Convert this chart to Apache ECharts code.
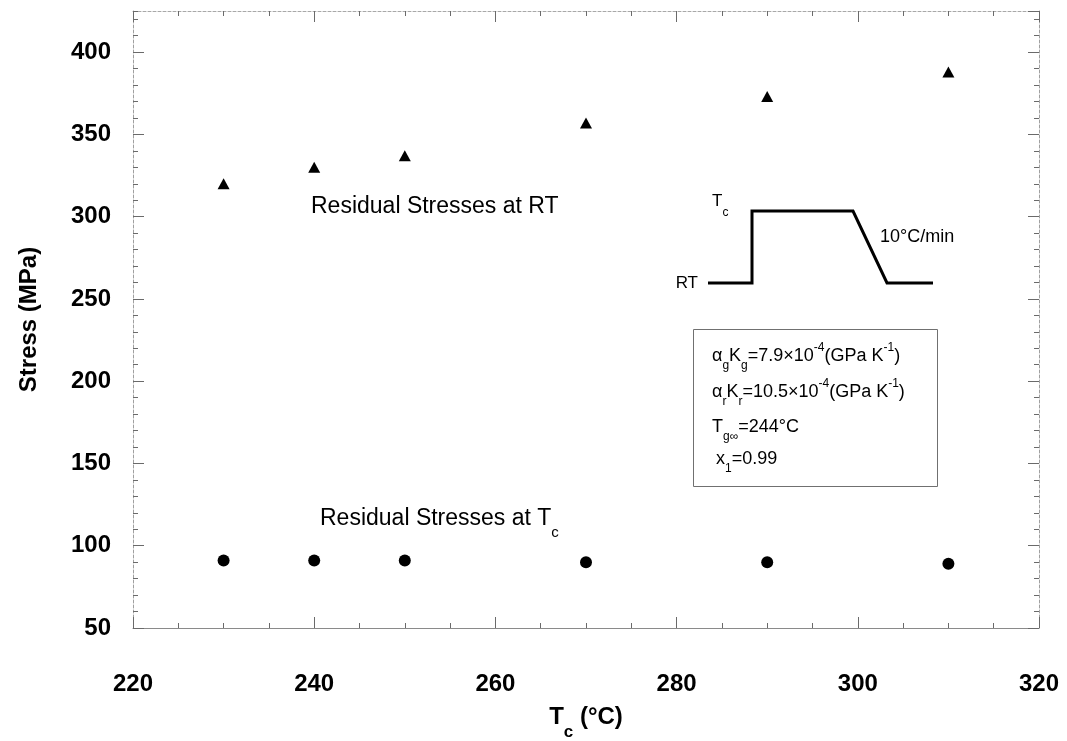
<!DOCTYPE html>
<html>
<head>
<meta charset="utf-8">
<script src="https://cdn.jsdelivr.net/npm/echarts@6/dist/echarts.min.js"></script>
<style>
  html, body { margin: 0; padding: 0; background: #fff; }
  #chart { width: 1067px; height: 741px; }
</style>
</head>
<body>
<div id="chart"></div>
<script>
// Crystallisation temperature Tc (°C) of each sample
const temperatures = [230, 240, 250, 270, 290, 310];
// Residual stress (MPa) measured after cooling to room temperature
const stressAtRT = [320, 330, 337, 357, 373, 388];
// Residual stress (MPa) at the crystallisation temperature
const stressAtTc = [91, 91, 91, 90, 90, 89];

// Axis tick values
const xTickValues = [220, 240, 260, 280, 300, 320];
const yTickValues = [50, 100, 150, 200, 250, 300, 350, 400];
const yTop = 425;

const FONT = "'Liberation Sans', Arial, Helvetica, sans-serif";
const FRAME = '#8a8a8a';
const TICK = '#6a6a6a';

const xMin = xTickValues[0];
const xMax = xTickValues[xTickValues.length - 1];
const xStep = xTickValues[1] - xTickValues[0];
const yMin = yTickValues[0];
const yStep = yTickValues[1] - yTickValues[0];

const chart = echarts.init(document.getElementById('chart'), null, { renderer: 'canvas' });

function xAxisDef(position, showLabels) {
  return {
    type: 'value', position: position, min: xMin, max: xMax, interval: xStep,
    axisLine: { show: true, lineStyle: position === 'bottom'
      ? { color: FRAME, width: 1 }
      : { color: '#a8a8a8', width: 1, type: [3, 2] } },
    axisTick: { show: true, inside: true, length: 11, lineStyle: { color: TICK, width: 1 } },
    minorTick: { show: true, splitNumber: 4, length: 5, lineStyle: { color: TICK, width: 1 } },
    splitLine: { show: false },
    axisLabel: showLabels ? {
      show: true, margin: 44, color: '#000', fontFamily: FONT, fontSize: 24, fontWeight: 'bold'
    } : { show: false },
    name: showLabels ? '{n|T}{s|c}{n| (°C)}' : '',
    nameLocation: 'middle',
    nameGap: 65,
    nameTextStyle: {
      color: '#000', fontFamily: FONT,
      rich: {
        n: { fontSize: 24, fontWeight: 'bold', lineHeight: 48, fontFamily: FONT, color: '#000' },
        s: { fontSize: 17, fontWeight: 'bold', verticalAlign: 'bottom', fontFamily: FONT, color: '#000' }
      }
    }
  };
}

function yAxisDef(position, step, tickLen, showLabels) {
  return {
    type: 'value', position: position, min: yMin, max: yTop, interval: step,
    axisLine: { show: tickLen > 6, lineStyle: { color: '#a0a0a0', width: 1, type: [3, 2] } },
    axisTick: { show: true, inside: true, length: tickLen, lineStyle: { color: TICK, width: 1 } },
    splitLine: { show: false },
    axisLabel: showLabels ? {
      show: true, margin: 22, color: '#000', fontFamily: FONT, fontSize: 24, fontWeight: 'bold',
      showMaxLabel: false, padding: [10, 0, 0, 0]
    } : { show: false },
    name: showLabels ? 'Stress (MPa)' : '',
    nameLocation: 'middle',
    nameGap: 92,
    nameTextStyle: { color: '#000', fontFamily: FONT, fontSize: 24, fontWeight: 'bold' }
  };
}

// Small helper for the annotation texts drawn on top of the plot
function label(x, y, text, rich, extra) {
  return {
    type: 'text', x: x, y: y, z: 10,
    style: Object.assign({
      text: text, rich: rich, fill: '#000', fontFamily: FONT,
      align: 'left', verticalAlign: 'top', textAlign: 'left', textVerticalAlign: 'top'
    }, extra || {})
  };
}

// subscripts sit at the bottom of the line box, superscripts at its top
const boxRich = {
  a: { fontSize: 18, lineHeight: 36, fontFamily: FONT, color: '#000' },
  sub: { fontSize: 12, verticalAlign: 'bottom', padding: [0, 0, 2, 0], fontFamily: FONT, color: '#000' },
  sup: { fontSize: 12, verticalAlign: 'top', padding: [4, 0, 0, 0], fontFamily: FONT, color: '#000' }
};

const option = {
  backgroundColor: '#fff',
  animation: false,
  grid: { left: 133, right: 28, top: 11, bottom: 113, containLabel: false, outerBoundsMode: 'none' },
  xAxis: [xAxisDef('bottom', true), xAxisDef('top', false)],
  yAxis: [
    yAxisDef('left', yStep, 11, true),
    yAxisDef('left', 10, 5, false),
    yAxisDef('right', yStep, 11, false),
    yAxisDef('right', 10, 5, false)
  ],
  series: [
    {
      name: 'Residual Stresses at RT',
      type: 'scatter', xAxisIndex: 0, yAxisIndex: 0,
      symbol: 'triangle', symbolSize: [12, 11],
      itemStyle: { color: '#000', opacity: 1 },
      data: temperatures.map((t, i) => [t, stressAtRT[i]])
    },
    {
      name: 'Residual Stresses at Tc',
      type: 'scatter', xAxisIndex: 0, yAxisIndex: 0,
      symbol: 'circle', symbolSize: 12,
      itemStyle: { color: '#000', opacity: 1 },
      data: temperatures.map((t, i) => [t, stressAtTc[i]])
    }
  ],
  graphic: [
    label(311, 195, 'Residual Stresses at RT', null, { fontSize: 23 }),
    label(320, 498, '{n|Residual Stresses at T}{s|c}', {
      n: { fontSize: 23, lineHeight: 42, fontFamily: FONT, color: '#000' },
      s: { fontSize: 15, verticalAlign: 'bottom', fontFamily: FONT, color: '#000' }
    }),
    // thermal history sketch: hold at Tc, then cool at 10 °C/min to RT
    {
      type: 'polyline', z: 10,
      shape: { points: [[708, 283], [752, 283], [752, 211], [853, 211], [887, 283], [933, 283]] },
      style: { stroke: '#000', lineWidth: 3, fill: null, lineJoin: 'miter' }
    },
    label(712, 183, '{n|T}{s|c}', {
      n: { fontSize: 17, lineHeight: 36, fontFamily: FONT, color: '#000' },
      s: { fontSize: 12, verticalAlign: 'bottom', fontFamily: FONT, color: '#000' }
    }),
    label(698, 283, 'RT', null, {
      fontSize: 17, align: 'right', textAlign: 'right', verticalAlign: 'middle', textVerticalAlign: 'middle'
    }),
    label(880, 237, '10°C/min', null, {
      fontSize: 18, verticalAlign: 'middle', textVerticalAlign: 'middle'
    }),
    // parameter box
    {
      type: 'rect', z: 9,
      shape: { x: 693.5, y: 329.5, width: 244, height: 157 },
      style: { stroke: '#707070', lineWidth: 1, fill: '#fff' }
    },
    label(712, 338, '{a|α}{sub|g}{a|K}{sub|g}{a|=7.9×10}{sup|-4}{a|(GPa K}{sup|-1}{a|)}', boxRich),
    label(712, 374, '{a|α}{sub|r}{a|K}{sub|r}{a|=10.5×10}{sup|-4}{a|(GPa K}{sup|-1}{a|)}', boxRich),
    label(712, 409, '{a|T}{sub|g∞}{a|=244°C}', boxRich),
    label(716, 441, '{a|x}{sub|1}{a|=0.99}', boxRich)
  ]
};

chart.setOption(option);
</script>
</body>
</html>
